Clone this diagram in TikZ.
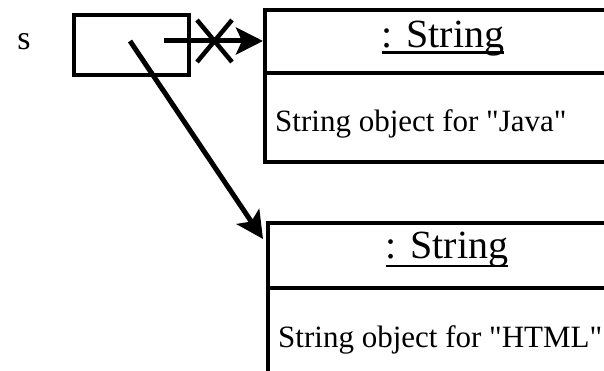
\documentclass[tikz,border=0pt]{standalone}
\usepackage{fontspec}
\setmainfont{Liberation Serif}[Ligatures=TeXOff]
\usetikzlibrary{arrows.meta}
\begin{document}
\begin{tikzpicture}[x=1pt,y=-1pt,
  boxline/.style={draw, line width=3.8pt, rectangle, anchor=north west, inner sep=0pt},
  titletext/.style={font=\fontsize{40}{46}\selectfont, inner sep=0pt, anchor=base},
  bodytext/.style={font=\fontsize{31}{37}\selectfont, inner sep=0pt, anchor=base west},
  ref/.style={line width=5pt, -{Stealth[length=27pt,width=27pt,inset=6pt]}},
  cross/.style={line width=4.5pt}]
\useasboundingbox (0,0) rectangle (604,371);
\clip (0,0) rectangle (604,371);
% variable s
\node[font=\fontsize{34}{40}\selectfont, inner sep=0pt, anchor=base] (s) at (24,50) {s};
\node[boxline, minimum width=115pt, minimum height=60pt] (v) at (72,13) {};
% object 1
\node[boxline, minimum width=360pt, minimum height=63pt] (h1) at (263,8) {};
\node[boxline, minimum width=360pt, minimum height=89pt] (b1) at (263,71) {};
\node[titletext] (t1) at (443,48) {: String};
\draw[line width=2.5pt] ([yshift=-4.5pt]t1.base west) -- ([yshift=-4.5pt]t1.base east);
\node[bodytext] (d1) at (275,132) {String object for "Java"};
% object 2
\node[boxline, minimum width=360pt, minimum height=65pt] (h2) at (266,221) {};
\node[boxline, minimum width=360pt, minimum height=90pt] (b2) at (266,286) {};
\node[titletext] (t2) at (447,258) {: String};
\draw[line width=2.5pt] ([yshift=-8pt]t2.base west) -- ([yshift=-8pt]t2.base east);
\node[bodytext] (d2) at (278,347) {String object for "HTML"};
% references
\coordinate (a1s) at (164,41);
\coordinate (a2s) at (130,41);
\draw[ref] (a1s) -- (h1.west |- a1s);
\draw[ref] (a2s) -- ([xshift=-3pt,yshift=-18pt]h2.north west);
% cross
\coordinate (xc) at (214.5,41);
\draw[cross] ([xshift=-17.5pt,yshift=21pt]xc) -- ([xshift=17.5pt,yshift=-21pt]xc)
             ([xshift=-17.5pt,yshift=-21pt]xc) -- ([xshift=17.5pt,yshift=21pt]xc);
\end{tikzpicture}
\end{document}
